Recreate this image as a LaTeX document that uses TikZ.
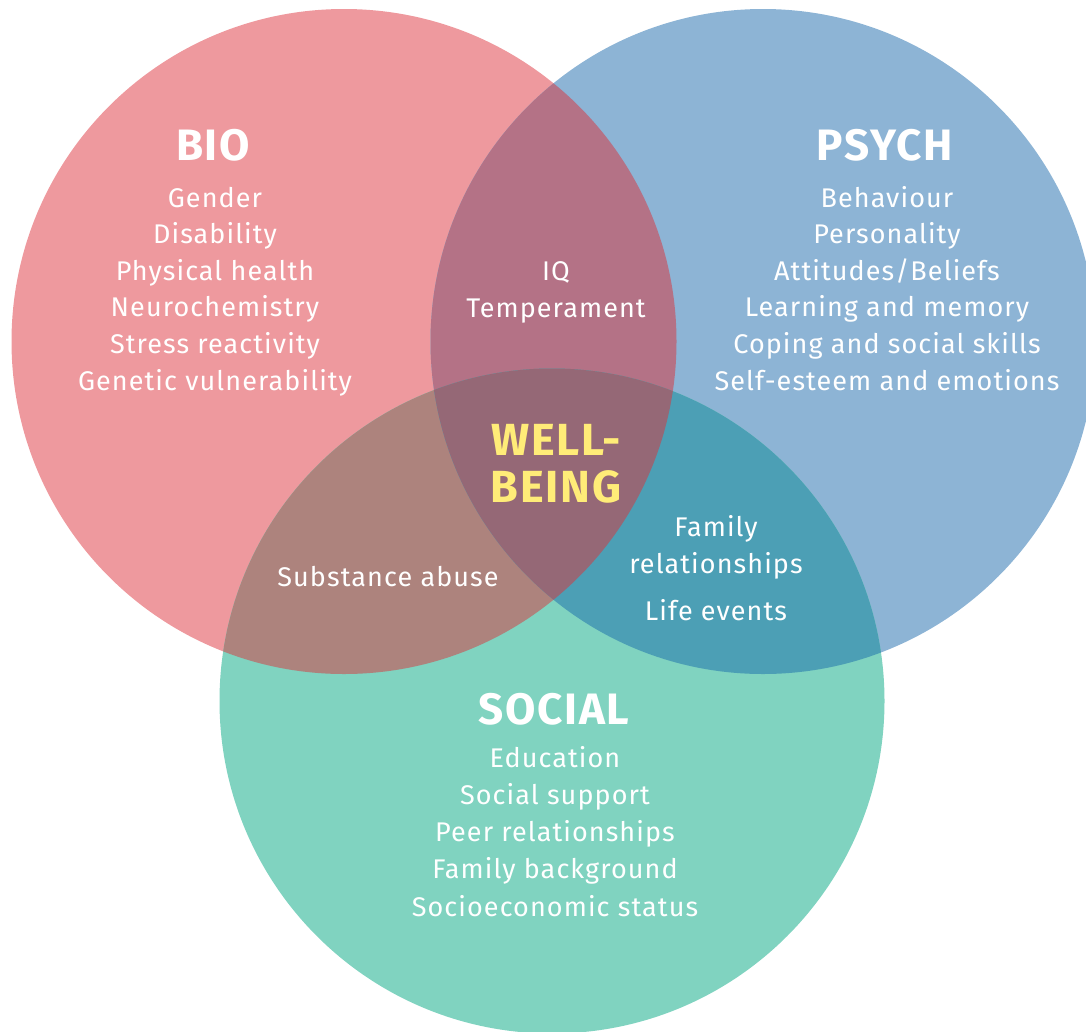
\documentclass[tikz,border=0pt]{standalone}
\usepackage{fontspec}
\setmainfont{Fira Sans}[LetterSpace=4]
\definecolor{biocol}{RGB}{238,153,158}
\definecolor{psycol}{RGB}{141,180,213}
\definecolor{soccol}{RGB}{128,211,192}
\definecolor{bpcol}{RGB}{180,114,134}
\definecolor{bscol}{RGB}{173,131,125}
\definecolor{pscol}{RGB}{76,159,181}
\definecolor{allcol}{RGB}{149,104,118}
\definecolor{wellcol}{RGB}{255,236,120}
\tikzset{
  title/.style={anchor=base,inner sep=0pt,text=white,font=\fontsize{44}{44}\bfseries\selectfont},
  items/.style={anchor=base,inner sep=0pt,text=white,align=center,font=\fontsize{27}{36.6}\selectfont},
}
\begin{document}
\begin{tikzpicture}[x=1pt,y=-1pt]
\useasboundingbox (0,0) rectangle (1086,1031);
\clip (0,0) rectangle (1086,1031);

%Shape: Circle bio
\fill [biocol] (344,341.5) circle [radius=332.5];
%Shape: Circle psych
\fill [psycol] (763,341.5) circle [radius=332.5];
%Shape: Circle social
\fill [soccol] (552,701) circle [radius=332.5];

%Overlap bio-psych
\begin{scope}
\clip (344,341.5) circle [radius=332.5];
\fill [bpcol] (763,341.5) circle [radius=332.5];
\end{scope}
%Overlap bio-social
\begin{scope}
\clip (344,341.5) circle [radius=332.5];
\fill [bscol] (552,701) circle [radius=332.5];
\end{scope}
%Overlap psych-social
\begin{scope}
\clip (763,341.5) circle [radius=332.5];
\fill [pscol] (552,701) circle [radius=332.5];
\end{scope}
%Overlap of all three
\begin{scope}
\clip (344,341.5) circle [radius=332.5];
\clip (763,341.5) circle [radius=332.5];
\fill [allcol] (552,701) circle [radius=332.5];
\end{scope}

% Text Node (base = last line)
\node [title] (bio) at (213,160) {BIO};
\node [items] (biolist) at (215,390) {Gender\\Disability\\Physical health\\Neurochemistry\\Stress reactivity\\Genetic vulnerability};
% Text Node
\node [title] (psych) at (885,160) {PSYCH};
\node [items] (psychlist) at (887,390) {Behaviour\\Personality\\Attitudes/Beliefs\\Learning and memory\\Coping and social skills\\Self-esteem and emotions};
% Text Node
\node [items] (iq) at (556,317) {IQ\\Temperament};
% Text Node
\node [title,text=wellcol,align=center,font=\fontsize{45}{47}\bfseries\selectfont] (well) at (556,502) {WELL-\\BEING};
% Text Node
\node [items] (substance) at (388,586) {Substance abuse};
\node [items] (family) at (716,573) {Family\\relationships};
\node [items] (life) at (716,620) {Life events};
% Text Node
\node [title] (social) at (554,724) {SOCIAL};
\node [items,font=\fontsize{27}{37.2}\selectfont] (sociallist) at (555,916) {Education\\Social support\\Peer relationships\\Family background\\Socioeconomic status};

\end{tikzpicture}
\end{document}
